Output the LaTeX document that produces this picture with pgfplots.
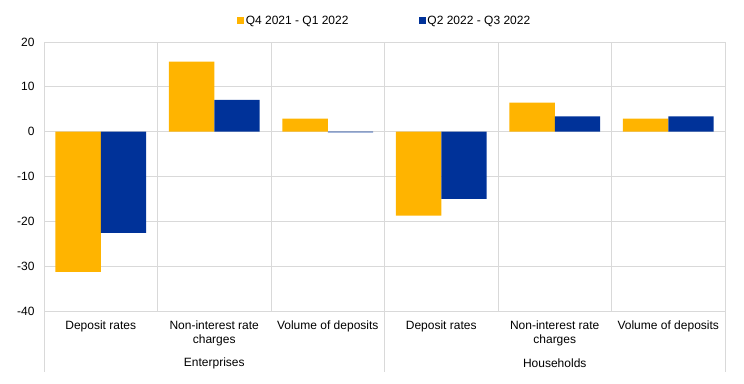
\documentclass[border=0pt]{standalone}
\usepackage{pgfplots}
\pgfplotsset{compat=1.18}
\usepackage{fontspec}
\setmainfont{Liberation Sans}
\definecolor{ecbyellow}{HTML}{FFB400}
\definecolor{ecbblue}{HTML}{003299}
\definecolor{gridgray}{HTML}{D9D9D9}
\begin{document}
\begin{tikzpicture}
\path[use as bounding box] (-44bp,-73bp) rectangle (700bp,311bp);
\begin{axis}[
  at={(0,0)}, anchor=south west,
  width=681bp, height=269bp, scale only axis,
  xmin=-0.5, xmax=5.5, ymin=-40, ymax=20,
  ytick={-40,-30,...,20},
  xtick={0,1,2,3,4,5},
  xticklabels={Deposit rates,{Non-interest rate\\charges},Volume of deposits,Deposit rates,{Non-interest rate\\charges},Volume of deposits},
  minor xtick={-0.5,0.5,1.5,2.5,3.5,4.5,5.5},
  xminorgrids, ymajorgrids,
  major grid style={draw=gridgray, line width=0.8pt},
  minor grid style={draw=gridgray, line width=0.8pt},
  axis line style={draw=gridgray, line width=0.8pt},
  major tick length=0pt, minor tick length=0pt,
  tick style={draw=none},
  /pgf/number format/assume math mode=true,
  tick label style={font=\fontsize{12bp}{14bp}\selectfont},
  xticklabel style={align=center, yshift=-6bp},
  yticklabel style={xshift=-6bp},
  ybar, bar width=0.4,
  legend style={at={(0.5,1)}, anchor=south, yshift=12bp, draw=none, fill=none,
    font=\fontsize{12bp}{14bp}\selectfont, legend columns=2,
    /tikz/every even column/.append style={column sep=68bp}},
  legend image code/.code={\fill[#1] (0bp,-3.5bp) rectangle (7bp,3.5bp);},
  clip=false,
]
\addplot[fill=ecbyellow, draw=none, bar shift=-0.2] coordinates {(0,-31.3) (1,15.6) (2,2.9) (3,-18.7) (4,6.5) (5,2.9)};
\addlegendentry{Q4 2021 - Q1 2022}
\addplot[fill=ecbblue, draw=none, bar shift=0.2] coordinates {(0,-22.6) (1,7.1) (2,-0.15) (3,-15.0) (4,3.4) (5,3.4)};
\addlegendentry{Q2 2022 - Q3 2022}
\draw[gridgray, line width=0.8pt] (axis cs:-0.5,-40) -- ([yshift=-61bp]axis cs:-0.5,-40);
\draw[gridgray, line width=0.8pt] (axis cs:2.5,-40) -- ([yshift=-61bp]axis cs:2.5,-40);
\draw[gridgray, line width=0.8pt] (axis cs:5.5,-40) -- ([yshift=-61bp]axis cs:5.5,-40);
\node[font=\fontsize{12bp}{14bp}\selectfont] at ([yshift=-52bp]axis cs:1,-40) {Enterprises};
\node[font=\fontsize{12bp}{14bp}\selectfont] at ([yshift=-52bp]axis cs:4,-40) {Households};
\end{axis}
\end{tikzpicture}
\end{document}
